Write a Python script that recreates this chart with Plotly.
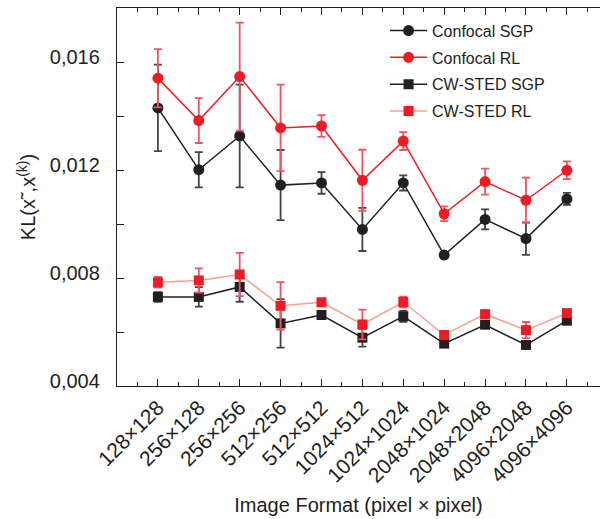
import plotly.graph_objects as go

formats = ["128×128", "256×128", "256×256", "512×256", "512×512", "1024×512",
           "1024×1024", "2048×1024", "2048×2048", "4096×2048", "4096×4096"]

conf_sgp = [0.01430, 0.01201, 0.01326, 0.01144, 0.01152, 0.00980, 0.01152, 0.00885, 0.01017, 0.00946, 0.01093]
conf_sgp_err = [0.0016, 0.00065, 0.0019, 0.0013, 0.0004, 0.0008, 0.00028, 0.0001, 0.00037, 0.0006, 0.00022]

conf_rl = [0.01540, 0.01383, 0.01546, 0.01356, 0.01363, 0.01162, 0.01307, 0.01038, 0.01157, 0.01088, 0.01199]
conf_rl_err = [0.00108, 0.00083, 0.0020, 0.0016, 0.0004, 0.00113, 0.00033, 0.00027, 0.00048, 0.00084, 0.00033]

sted_sgp = [0.00730, 0.00730, 0.00767, 0.00632, 0.00663, 0.00579, 0.00658, 0.00557, 0.00627, 0.00552, 0.00642]
sted_sgp_err = [0.00018, 0.00036, 0.00055, 0.0009, 0.00008, 0.00033, 0.0002, 0.00008, 0.00008, 0.00006, 0.00008]

sted_rl = [0.00784, 0.00791, 0.00813, 0.00697, 0.00710, 0.00628, 0.00711, 0.00589, 0.00666, 0.00607, 0.00670]
sted_rl_err = [0.0002, 0.00045, 0.0008, 0.00088, 0.00008, 0.00055, 0.0002, 0.00008, 0.00008, 0.0003, 0.00008]

y_ticks = [0.004, 0.008, 0.012, 0.016]
y_ticktext = ["0,004", "0,008", "0,012", "0,016"]

x = list(range(len(formats)))

BLACK = "#231f20"
RED = "#ed1c24"
SALMON = "#f6a189"
FONT = "Liberation Sans, Arial, sans-serif"

series = [
    ("Confocal SGP", conf_sgp, conf_sgp_err, BLACK, BLACK, "#444444", "circle", 11),
    ("Confocal RL", conf_rl, conf_rl_err, RED, RED, "#ee5560", "circle", 11),
    ("CW-STED SGP", sted_sgp, sted_sgp_err, BLACK, BLACK, "#444444", "square", 10),
    ("CW-STED RL", sted_rl, sted_rl_err, SALMON, RED, "#ee5560", "square", 10),
]

fig = go.Figure()
for name, vals, errs, lc, mc, ec, sym, ms in series:
    fig.add_trace(go.Scatter(
        x=x, y=vals, name=name, mode="lines+markers", legendgroup=name,
        line=dict(color=lc, width=1.5),
        marker=dict(symbol=sym, size=ms, color=mc),
        error_y=dict(type="data", array=errs, visible=True, color=ec,
                     thickness=1.8, width=4),
    ))

fig.update_layout(
    width=600, height=519,
    margin=dict(l=117, r=0, t=8, b=133),
    plot_bgcolor="white", paper_bgcolor="white",
    font=dict(family=FONT, size=20, color=BLACK),
    showlegend=True,
    legend=dict(x=0.555, y=0.985, xanchor="left", yanchor="top",
                font=dict(size=16, color=BLACK), bgcolor="rgba(0,0,0,0)",
                tracegroupgap=3, itemwidth=37),
    xaxis=dict(
        range=[-1, 10.81],
        tickmode="array", tickvals=x, ticktext=formats, tickangle=-45,
        ticks="inside", ticklen=7, tickwidth=1.3, tickcolor=BLACK,
        showline=True, linecolor=BLACK, linewidth=1.3, mirror="allticks",
        showgrid=False, zeroline=False,
        minor=dict(tickvals=[i - 0.5 for i in range(len(formats) + 1)],
                   ticks="inside", ticklen=4, tickwidth=1.3, tickcolor=BLACK),
        title=dict(text="Image Format (pixel × pixel)", standoff=12,
                   font=dict(size=20)),
        tickfont=dict(size=21),
    ),
    yaxis=dict(
        range=[0.004, 0.018],
        tickmode="array", tickvals=y_ticks, ticktext=y_ticktext,
        ticks="inside", ticklen=7, tickwidth=1.3, tickcolor=BLACK,
        showline=True, linecolor=BLACK, linewidth=1.3, mirror=False,
        showgrid=False, zeroline=False,
        minor=dict(tickvals=[0.006, 0.010, 0.014], ticks="inside",
                   ticklen=7, tickwidth=1.3, tickcolor=BLACK),
        ticklabelstandoff=12, ticklabelshift=-5,
        title=dict(text="KL(x˜,x<sup>(k)</sup>)", standoff=8,
                   font=dict(size=20)),
        tickfont=dict(size=20),
    ),
)

fig.write_html("out.html")
